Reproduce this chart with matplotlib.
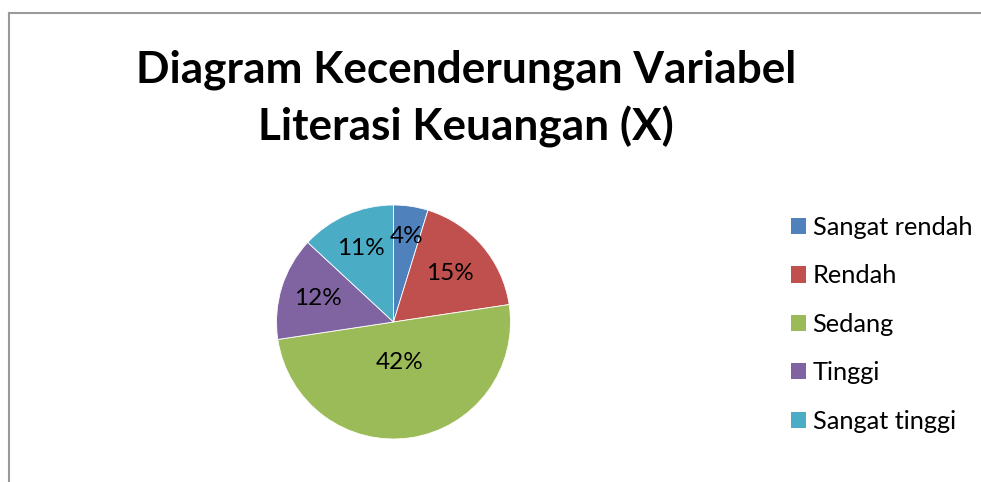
import matplotlib.pyplot as plt
from matplotlib.patches import Patch
import numpy as np

plt.rcParams['font.family'] = ['Lato', 'DejaVu Sans']

categories = ['Sangat rendah', 'Rendah', 'Sedang', 'Tinggi', 'Sangat tinggi']
values = [4, 15, 42, 12, 11]
labels = ['4%', '15%', '42%', '12%', '11%']
colors = ['#4F81BD', '#C0504D', '#9BBB59', '#8064A2', '#4BACC6']
label_dist = [0.74, 0.64, 0.35, 0.68, 0.69]
title_lines = ['Diagram Kecenderungan Variabel', 'Literasi Keuangan (X)']

W, H = 981, 482
fig = plt.figure(figsize=(W / 100, H / 100), dpi=100)

# frame lines (chart area border)
fig.add_artist(plt.Line2D([9 / W, 9 / W], [0, 1 - 13 / H], color='#9a9a9a', lw=1.5))
fig.add_artist(plt.Line2D([9 / W, 1], [1 - 13 / H, 1 - 13 / H], color='#9a9a9a', lw=1.5))

# title, two lines
for line, base in zip(title_lines, [83, 140]):
    fig.text(466 / W, 1 - base / H, line, ha='center', va='baseline',
             fontsize=31.8, fontweight='bold')

# pie
cx, cy, r = 393.5, 322, 117
ax = fig.add_axes([(cx - r) / W, (H - cy - r) / H, 2 * r / W, 2 * r / H])
wedges, _ = ax.pie(values, colors=colors, startangle=90, counterclock=False,
                   wedgeprops=dict(edgecolor='white', linewidth=0.6))
ax.set_aspect('equal')
ax.set_xlim(-1, 1)
ax.set_ylim(-1, 1)

for w, lab, d in zip(wedges, labels, label_dist):
    ang = np.deg2rad((w.theta1 + w.theta2) / 2)
    ax.text(d * np.cos(ang), d * np.sin(ang), lab, ha='center', va='center',
            fontsize=17.5, color='black')

# legend
handles = [Patch(facecolor=c, edgecolor='none') for c in colors]
fig.legend(handles, categories, loc='upper left', bbox_to_anchor=(791 / W, 1 - 216 / H),
           frameon=False, fontsize=18.3, handlelength=0.6, handleheight=0.6,
           handletextpad=0.25, labelspacing=1.0, borderpad=0, borderaxespad=0)

fig.savefig('out.png', dpi=100)
